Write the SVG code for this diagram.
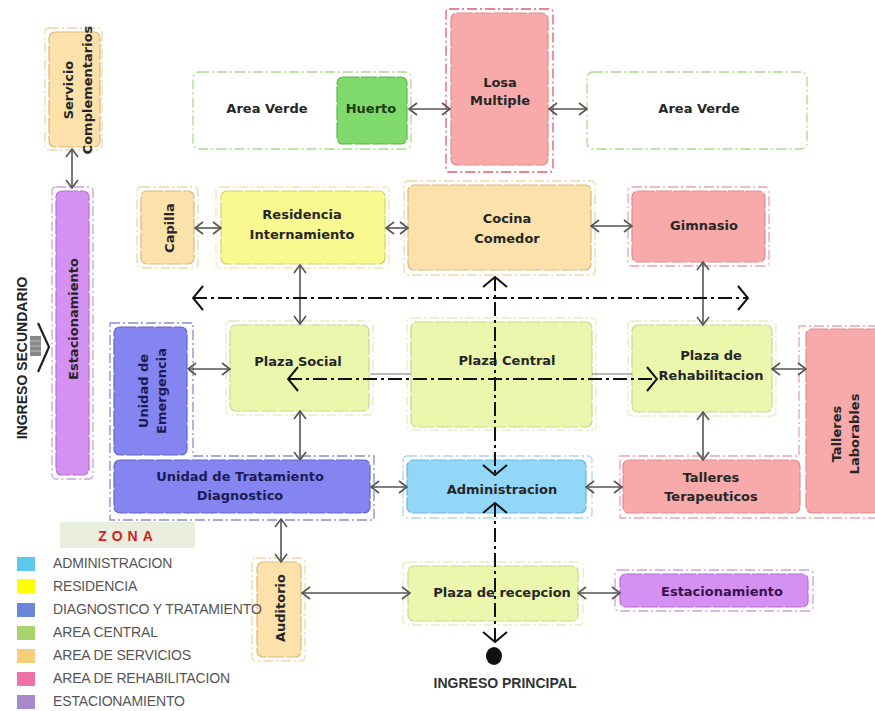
<svg xmlns="http://www.w3.org/2000/svg" width="875" height="711" viewBox="0 0 875 711">
<style>
.o{fill:none;stroke-width:1.3;stroke-dasharray:10 3 2 3}
.i{stroke-width:1.2;stroke-dasharray:16 2}
.t{font-family:"DejaVu Sans","Liberation Sans",sans-serif;font-weight:bold;font-size:13px;fill:#262626;text-anchor:middle}
.serv .i{fill:#fce2aa;stroke:#dcb878}.serv .o{stroke:#eed8a6}
.est .i{fill:#d591f2;stroke:#b66fd6}.est .o{stroke:#c9a0e0}
.verde .o{stroke:#a9dd8c;fill:#fff}
.hue .i{fill:#7fd96b;stroke:#5cb84a}
.reh .i{fill:#f8aaaa;stroke:#dc8c8c}.reh .o{stroke:#e9a6ac}
.res .i{fill:#f9f98f;stroke:#d2d26a}.res .o{stroke:#eaeab4}
.pla .i{fill:#ecf7ae;stroke:#c6d88a}.pla .o{stroke:#e3efc0}
.dia .i{fill:#8585f2;stroke:#6464c8}
.adm .i{fill:#92d6f8;stroke:#6cb4de}.adm .o{stroke:#a8d8ef}
.c{fill:none;stroke:#555;stroke-width:1.6;marker-start:url(#ah);marker-end:url(#ah)}
.dd{fill:none;stroke:#111;stroke-width:2;stroke-dasharray:14 4 3 4}
.lg{font-family:"Liberation Sans",Arial,sans-serif;font-size:14px;fill:#555;letter-spacing:-0.15px}
</style>
<defs>
<marker id="ah" viewBox="0 0 10 14" refX="9" refY="7" markerWidth="10" markerHeight="14" markerUnits="userSpaceOnUse" orient="auto-start-reverse">
<path d="M1,1 L9,7 L1,13" fill="none" stroke="#555" stroke-width="1.6"/>
</marker>
<marker id="dh" viewBox="0 0 12 26" refX="11" refY="13" markerWidth="12" markerHeight="26" markerUnits="userSpaceOnUse" orient="auto-start-reverse">
<path d="M1,1 L11,13 L1,25" fill="none" stroke="#111" stroke-width="2"/>
</marker>
</defs>
<rect width="875" height="711" fill="#fff"/>

<g id="servicio" class="serv">
<rect class="o" x="45" y="28" width="57" height="122" rx="4"/>
<rect class="i" x="49" y="32" width="51" height="115" rx="6"/>
<text class="t" transform="translate(78,90) rotate(-90)"><tspan x="0" y="-5.5">Servicio</tspan><tspan x="0" y="13.5">Complementarios</tspan></text>
</g>
<g id="estac-izq" class="est">
<rect class="o" x="52" y="187" width="41" height="292" rx="4"/>
<rect class="i" x="56" y="191" width="33" height="284" rx="6"/>
<text class="t" transform="translate(73,319) rotate(-90)" y="4.5" x="0">Estacionamiento</text>
</g>
<g id="ingreso-secundario">
<text transform="translate(22,358) rotate(-90)" x="0" y="5" style="font-family:'Liberation Sans',Arial,sans-serif;font-weight:bold;font-size:14px;fill:#222;text-anchor:middle">INGRESO SECUNDARIO</text>
<rect x="30" y="336" width="11" height="20" fill="#888"/>
<g stroke="#bbb" stroke-width="1"><line x1="30" y1="341" x2="41" y2="341"/><line x1="30" y1="346" x2="41" y2="346"/><line x1="30" y1="351" x2="41" y2="351"/></g>
<path d="M38,323 L49,347 L38,372" fill="none" stroke="#222" stroke-width="2.2"/>
</g>

<g id="area-verde-izq" class="verde">
<rect class="o" x="193" y="72" width="218" height="77" rx="6"/>
<text class="t" x="267" y="113">Area Verde</text>
</g>
<g id="huerto" class="hue">
<rect class="i" x="337" y="77" width="70" height="67" rx="6"/>
<text class="t" x="371" y="113" style="fill:#1d3a10">Huerto</text>
</g>
<g id="losa" class="reh">
<rect class="o" x="446" y="9" width="107" height="163" rx="3" style="stroke:#e05a6c"/>
<rect class="i" x="451" y="13" width="97" height="152" rx="6"/>
<text class="t" x="500" y="87">Losa</text>
<text class="t" x="500" y="105">Multiple</text>
</g>
<g id="area-verde-der" class="verde">
<rect class="o" x="587" y="72" width="220" height="77" rx="6"/>
<text class="t" x="699" y="113">Area Verde</text>
</g>

<g id="capilla" class="serv">
<rect class="o" x="137" y="187" width="61" height="81" rx="4"/>
<rect class="i" x="141" y="191" width="53" height="73" rx="6"/>
<text class="t" transform="translate(169,228) rotate(-90)" x="0" y="4.5">Capilla</text>
</g>
<g id="residencia" class="res">
<rect class="o" x="216" y="187" width="173" height="81" rx="4"/>
<rect class="i" x="221" y="191" width="164" height="73" rx="6"/>
<text class="t" x="302" y="219">Residencia</text>
<text class="t" x="302" y="239">Internamiento</text>
</g>
<g id="cocina" class="serv">
<rect class="o" x="404" y="181" width="191" height="94" rx="4"/>
<rect class="i" x="408" y="185" width="183" height="85" rx="6"/>
<text class="t" x="507" y="223">Cocina</text>
<text class="t" x="507" y="243">Comedor</text>
</g>
<g id="gimnasio" class="reh">
<rect class="o" x="628" y="187" width="141" height="79" rx="4"/>
<rect class="i" x="632" y="191" width="133" height="71" rx="6"/>
<text class="t" x="704" y="230">Gimnasio</text>
</g>

<g id="grupo-diagnostico">
<path d="M110,323 L193,323 L193,456 L374,456 L374,520 L110,520 Z" fill="none" stroke="#8c8cd0" stroke-width="1.3" stroke-dasharray="10 3 2 3"/>
</g>
<g id="emergencia" class="dia">
<rect class="i" x="114" y="327" width="73" height="128" rx="6"/>
<text class="t" transform="translate(152,391) rotate(-90)" style="fill:#1b1b55"><tspan x="0" y="-4">Unidad de</tspan><tspan x="0" y="14">Emergencia</tspan></text>
</g>
<g id="tratamiento" class="dia">
<rect class="i" x="114" y="460" width="256" height="53" rx="6"/>
<text class="t" x="240" y="481" style="fill:#1b1b55">Unidad de Tratamiento</text>
<text class="t" x="240" y="500" style="fill:#1b1b55">Diagnostico</text>
</g>
<g id="plaza-social" class="pla">
<rect class="o" x="226" y="321" width="147" height="94" rx="4"/>
<rect class="i" x="230" y="325" width="139" height="86" rx="6"/>
<text class="t" x="298" y="366">Plaza Social</text>
</g>
<g id="plaza-central" class="pla">
<rect class="o" x="407" y="318" width="189" height="112" rx="4"/>
<rect class="i" x="411" y="322" width="181" height="105" rx="6"/>
<text class="t" x="507" y="365">Plaza Central</text>
</g>
<g id="plaza-rehab" class="pla">
<rect class="o" x="628" y="321" width="148" height="95" rx="4"/>
<rect class="i" x="632" y="325" width="140" height="87" rx="6"/>
<text class="t" x="711" y="360">Plaza de</text>
<text class="t" x="711" y="380">Rehabilitacion</text>
</g>
<g id="administracion" class="adm">
<rect class="o" x="403" y="456" width="189" height="62" rx="4"/>
<rect class="i" x="407" y="460" width="179" height="53" rx="6"/>
<text class="t" x="502" y="494">Administracion</text>
</g>
<g id="grupo-talleres">
<path d="M620,456 L799,456 L799,326 L876,326 L876,518 L620,518 Z" fill="none" stroke="#e9a6ac" stroke-width="1.3" stroke-dasharray="10 3 2 3"/>
</g>
<g id="talleres-terapeuticos" class="reh">
<rect class="i" x="623" y="460" width="177" height="53" rx="6"/>
<text class="t" x="711" y="482">Talleres</text>
<text class="t" x="711" y="501">Terapeuticos</text>
</g>
<g id="talleres-laborables" class="reh">
<rect class="i" x="806" y="329" width="75" height="184" rx="6"/>
<text class="t" transform="translate(845,434) rotate(-90)"><tspan x="0" y="-4">Talleres</tspan><tspan x="0" y="14">Laborables</tspan></text>
</g>

<g id="auditorio" class="serv">
<rect class="o" x="252" y="558" width="53" height="103" rx="4"/>
<rect class="i" x="257" y="562" width="44" height="95" rx="6"/>
<text class="t" transform="translate(280,608) rotate(-90)" x="0" y="4.5">Auditorio</text>
</g>
<g id="plaza-recepcion" class="pla">
<rect class="o" x="403" y="562" width="180" height="63" rx="4"/>
<rect class="i" x="408" y="566" width="170" height="55" rx="6"/>
<text class="t" x="502" y="597">Plaza de recepcion</text>
</g>
<g id="estac-der" class="est">
<rect class="o" x="615" y="570" width="198" height="41" rx="4"/>
<rect class="i" x="620" y="574" width="188" height="33" rx="6"/>
<text class="t" x="722" y="596" style="fill:#3a1050">Estacionamiento</text>
</g>
<g id="ingreso-principal">
<ellipse cx="494" cy="656" rx="8" ry="9" fill="#111"/>
<text x="505" y="688" style="font-family:'Liberation Sans',Arial,sans-serif;font-weight:bold;font-size:14px;fill:#333;text-anchor:middle">INGRESO PRINCIPAL</text>
</g>

<g id="connectors">
<path class="c" d="M72,149 L72,188"/>
<path class="c" d="M409,109 L450,109"/>
<path class="c" d="M549,109 L587,109"/>
<path class="c" d="M195,228 L221,228"/>
<path class="c" d="M386,228 L408,228"/>
<path class="c" d="M591,226 L632,226"/>
<path class="c" d="M300,265 L300,324"/>
<path class="c" d="M703,262 L703,325"/>
<path class="c" d="M188,369 L230,369"/>
<path class="c" d="M300,411 L300,460"/>
<path class="c" d="M772,369 L806,369"/>
<path class="c" d="M703,412 L703,460"/>
<path class="c" d="M371,487 L407,487"/>
<path class="c" d="M586,487 L622,487"/>
<path class="c" d="M281,519 L281,562"/>
<path class="c" d="M302,593 L410,593"/>
<path class="c" d="M578,593 L620,593"/>
<g stroke="#777" stroke-width="1"><line x1="370" y1="374" x2="411" y2="374"/><line x1="592" y1="374" x2="632" y2="374"/></g>
<path class="dd" d="M193,298 L748,298" marker-start="url(#dh)" marker-end="url(#dh)"/>
<path class="dd" d="M288,379 L657,379" marker-start="url(#dh)" marker-end="url(#dh)"/>
<path class="dd" d="M495,277 L495,475" marker-start="url(#dh)" marker-end="url(#dh)"/>
<path class="dd" d="M495,503 L495,642" marker-start="url(#dh)" marker-end="url(#dh)"/>
</g>

<g id="legend">
<rect x="60" y="522" width="135" height="26" fill="#e9eedf"/>
<text x="128" y="541" style="font-family:'Liberation Sans',Arial,sans-serif;font-weight:bold;font-size:14px;fill:#d42020;text-anchor:middle;letter-spacing:5px">ZONA</text>
<rect x="17" y="557" width="18" height="14" fill="#5bc8ee"/><text class="lg" x="53" y="568">ADMINISTRACION</text>
<rect x="17" y="579" width="18" height="14" fill="#ffff00"/><text class="lg" x="53" y="591">RESIDENCIA</text>
<rect x="17" y="603" width="18" height="14" fill="#6a86d8"/><text class="lg" x="53" y="614">DIAGNOSTICO Y TRATAMIENTO</text>
<rect x="17" y="626" width="18" height="14" fill="#a9d46c"/><text class="lg" x="53" y="637">AREA CENTRAL</text>
<rect x="17" y="649" width="18" height="14" fill="#f8cd7a"/><text class="lg" x="53" y="660">AREA DE SERVICIOS</text>
<rect x="17" y="672" width="18" height="14" fill="#f070a8"/><text class="lg" x="53" y="683">AREA DE REHABILITACION</text>
<rect x="17" y="695" width="18" height="14" fill="#a888cc"/><text class="lg" x="53" y="706">ESTACIONAMIENTO</text>
</g>
</svg>
